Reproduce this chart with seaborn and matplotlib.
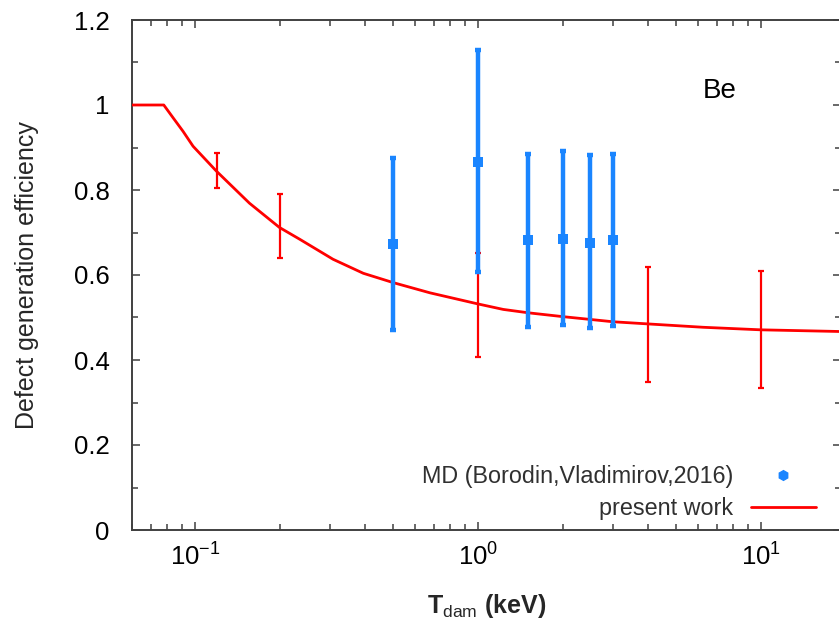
import numpy as np
import pandas as pd
import matplotlib
matplotlib.use("Agg")
import matplotlib.pyplot as plt
import matplotlib.ticker as mticker
from matplotlib.lines import Line2D
import seaborn as sns

# ---- data ----
curve_x = [0.06, 0.0777, 0.0838, 0.0909, 0.0986, 0.119, 0.156, 0.199, 0.235, 0.308,
           0.394, 0.503, 0.678, 1.0, 1.23, 1.51, 2.0, 3.0, 3.97, 6.25, 10.0, 19.2]
curve_y = [1.0, 1.0, 0.970, 0.938, 0.903, 0.845, 0.769, 0.712, 0.684, 0.637,
           0.604, 0.582, 0.558, 0.532, 0.519, 0.511, 0.502, 0.490, 0.485, 0.477, 0.471, 0.467]

work_x = [0.12, 0.2, 1.0, 4.0, 10.0]
work_y = [0.843, 0.711, 0.532, 0.485, 0.471]
work_lo = [0.804, 0.639, 0.408, 0.349, 0.335]
work_hi = [0.886, 0.790, 0.651, 0.620, 0.609]

md_x = [0.5, 1.0, 1.5, 2.0, 2.5, 3.0]
md_y = [0.672, 0.867, 0.682, 0.685, 0.676, 0.682]
md_lo = [0.471, 0.608, 0.478, 0.482, 0.475, 0.480]
md_hi = [0.875, 1.129, 0.885, 0.892, 0.882, 0.885]

y_ticks = [0, 0.2, 0.4, 0.6, 0.8, 1.0, 1.2]
y_tick_labels = ["0", "0.2", "0.4", "0.6", "0.8", "1", "1.2"]

md_label = "MD (Borodin,Vladimirov,2016)"
work_label = "present work"

RED = "#ff0000"
BLUE = "#1a85ff"

sns.set_style("ticks")
plt.rcParams["font.family"] = ["Liberation Sans", "DejaVu Sans"]
plt.rcParams["mathtext.fontset"] = "custom"
plt.rcParams["mathtext.rm"] = "Liberation Sans"
plt.rcParams["mathtext.it"] = "Liberation Sans:italic"
plt.rcParams["mathtext.bf"] = "Liberation Sans:bold"

fig = plt.figure(figsize=(8.39, 6.21), dpi=100)
ax = fig.add_axes([132 / 839, 1 - 530 / 621, (841 - 132) / 839, (530 - 20) / 621])

curve_df = pd.DataFrame({"x": curve_x, "y": curve_y})
sns.lineplot(data=curve_df, x="x", y="y", ax=ax, color=RED, lw=2.0, zorder=3,
             estimator=None, sort=False)

wy = np.array(work_y)
ax.errorbar(work_x, work_y,
            yerr=[wy - np.array(work_lo), np.array(work_hi) - wy],
            fmt="none", ecolor=RED, elinewidth=1.6, capsize=2.5, capthick=1.6, zorder=3)

my = np.array(md_y)
ax.errorbar(md_x, md_y,
            yerr=[my - np.array(md_lo), np.array(md_hi) - my],
            fmt="none", ecolor=BLUE, elinewidth=3.2, capsize=2.0, capthick=3.2, zorder=4)
md_df = pd.DataFrame({"x": md_x, "y": md_y})
sns.scatterplot(data=md_df, x="x", y="y", ax=ax, marker="s", s=48, color=BLUE,
                edgecolor=BLUE, linewidth=0, zorder=5)

ax.set_xscale("log")
ax.set_xlim(0.06, 19.2)
ax.set_ylim(0, 1.2)

ax.xaxis.set_major_locator(mticker.LogLocator(base=10, numticks=10))
ax.xaxis.set_minor_locator(mticker.LogLocator(base=10, subs=np.arange(2, 10), numticks=20))
ax.xaxis.set_major_formatter(mticker.LogFormatterSciNotation())
ax.xaxis.set_minor_formatter(mticker.NullFormatter())
ax.set_yticks(y_ticks)
ax.set_yticklabels(y_tick_labels)
ax.yaxis.set_minor_locator(mticker.MultipleLocator(0.1))

spine_color = "#404040"
for side in ["left", "bottom", "top"]:
    ax.spines[side].set_color(spine_color)
    ax.spines[side].set_linewidth(1.4)
ax.spines["right"].set_visible(False)
ax.tick_params(which="both", direction="in", top=True, right=True, color=spine_color,
               width=1.1, labelsize=18.5, labelcolor="black")
ax.tick_params(which="major", length=6)
ax.tick_params(which="minor", length=4)
ax.tick_params(axis="x", which="major", pad=10)
ax.tick_params(axis="y", which="major", pad=16)

ax.set_xlabel(r"$\mathbf{T}_{\mathrm{dam}}\ \mathbf{(keV)}$", fontsize=18, labelpad=15)
ax.set_ylabel("Defect generation efficiency", fontsize=18, labelpad=25)

ax.text(720 / 839, 1 - 91 / 621, "Be", transform=fig.transFigure, fontsize=20,
        ha="center", va="center", color="black")

handles = [Line2D([], [], color=BLUE, marker="h", ls="none", markersize=7),
           Line2D([], [], color=RED, lw=2.0)]
leg = ax.legend(handles, [md_label, work_label], loc="lower right",
                bbox_to_anchor=(816 / 839, 1 - 520 / 621), bbox_transform=fig.transFigure,
                frameon=False, markerfirst=False, fontsize=16.8, handlelength=2.8,
                handletextpad=0.75, labelspacing=0.4, borderpad=0, borderaxespad=0)
for t in leg.get_texts():
    t.set_color("#303030")

ax.set_facecolor("white")
fig.patch.set_facecolor("white")
fig.savefig("out.png", dpi=100, facecolor="white")
